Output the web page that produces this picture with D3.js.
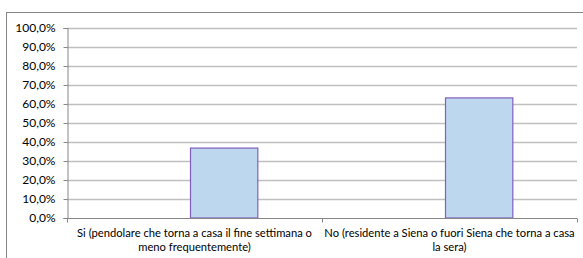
<!DOCTYPE html>
<html>
<head>
<meta charset="utf-8">
<script src="https://cdn.jsdelivr.net/npm/d3@7"></script>
<style>
  body { margin: 0; background: #fff; }
  svg { display: block; font-family: Lato, "Open Sans", sans-serif; }
</style>
</head>
<body>
<div id="chart"></div>
<script>
const categories = [
  ['Si (pendolare che torna a casa il fine settimana o', 'meno frequentemente)'],
  ['No (residente a Siena o fuori Siena che torna a casa', 'la sera)']
];
const values = [0.368, 0.632];
const yTicks = [0, 0.1, 0.2, 0.3, 0.4, 0.5, 0.6, 0.7, 0.8, 0.9, 1.0];

const width = 583, height = 258;
const margin = { top: 28, right: 6, bottom: 40, left: 67 };

const svg = d3.select('#chart').append('svg')
  .attr('width', width)
  .attr('height', height);

// outer chart frame
svg.append('rect')
  .attr('x', 6.5).attr('y', 12.5)
  .attr('width', 600).attr('height', 300)
  .attr('fill', 'none')
  .attr('stroke', '#868686');

const x = d3.scaleBand()
  .domain(categories.map((d, i) => i))
  .range([margin.left, width - margin.right]);
const barW = x.bandwidth() * 0.264;
// bars sit right of the category centre (as in the original clustered layout)
const barCenter = i => x(i) + x.bandwidth() * 0.616;

const y = d3.scaleLinear()
  .domain([0, 1])
  .range([height - margin.bottom, margin.top]);

// gridlines
svg.append('g')
  .selectAll('line')
  .data(yTicks.slice(1))
  .enter().append('line')
  .attr('x1', margin.left).attr('x2', width - margin.right)
  .attr('y1', d => Math.round(y(d)) + 0.5)
  .attr('y2', d => Math.round(y(d)) + 0.5)
  .attr('stroke', '#bfbfbf')
  .attr('stroke-width', 1.5);

// bars
svg.append('g')
  .selectAll('rect')
  .data(values)
  .enter().append('rect')
  .attr('x', (d, i) => Math.round(barCenter(i) - barW / 2) + 0.5)
  .attr('y', d => y(d))
  .attr('width', barW)
  .attr('height', d => y(0) - y(d))
  .attr('fill', '#bdd7ee')
  .attr('stroke', '#7f5fbf')
  .attr('stroke-width', 1.2);

// y axis
const yAxis = svg.append('g')
  .attr('transform', `translate(${margin.left + 0.5},0)`)
  .call(d3.axisLeft(y).tickValues(yTicks).tickSize(4).tickPadding(8)
    .tickFormat(d => (d * 100).toFixed(1).replace('.', ',') + '%'));
yAxis.select('.domain').attr('stroke', '#868686');
yAxis.selectAll('.tick line').attr('stroke', '#868686');
yAxis.selectAll('text').attr('font-size', 12).attr('fill', '#000')
  .attr('font-family', 'Lato, "Open Sans", sans-serif');

// x axis
const xAxisG = svg.append('g')
  .attr('transform', `translate(0,${y(0) + 0.5})`);
xAxisG.append('line')
  .attr('x1', margin.left).attr('x2', width - margin.right)
  .attr('stroke', '#868686');
const bounds = [margin.left, x(1), width - margin.right];
xAxisG.selectAll('.tk')
  .data(bounds)
  .enter().append('line')
  .attr('x1', d => d + 0.5).attr('x2', d => d + 0.5)
  .attr('y1', 0).attr('y2', 4)
  .attr('stroke', '#868686');

const labels = svg.append('g')
  .selectAll('text')
  .data(categories)
  .enter().append('text')
  .attr('text-anchor', 'middle')
  .attr('font-size', 11.2)
  .attr('fill', '#000')
  .attr('transform', (d, i) => `translate(${x(i) + x.bandwidth() / 2},${y(0) + 19})`);
labels.selectAll('tspan')
  .data(d => d)
  .enter().append('tspan')
  .attr('x', 0)
  .attr('dy', (d, i) => i === 0 ? 0 : 14)
  .text(d => d);
</script>
</body>
</html>
